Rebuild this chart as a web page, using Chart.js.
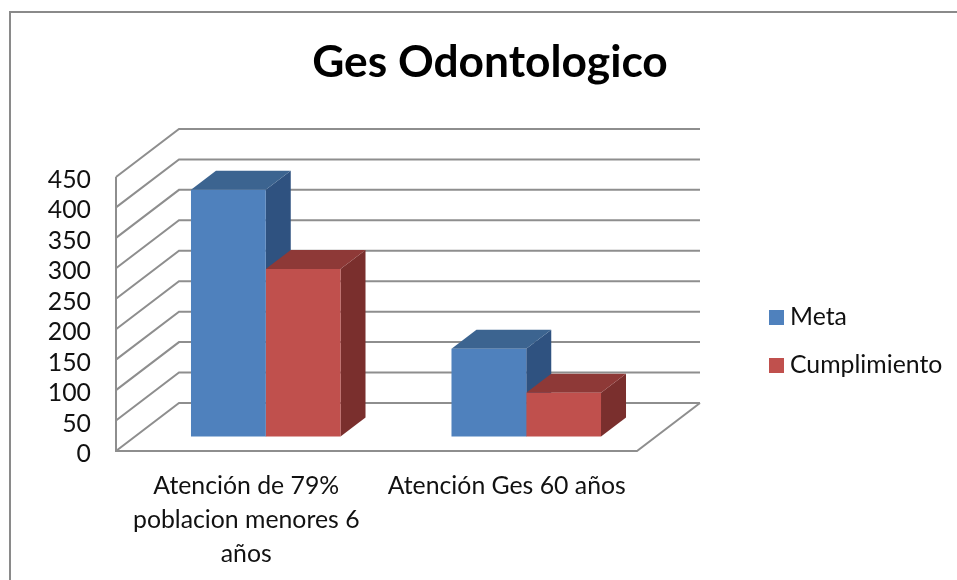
<!DOCTYPE html>
<html>
<head>
<meta charset="utf-8">
<style>html,body{margin:0;padding:0;background:#fff}canvas{display:block}</style>
<script src="https://cdn.jsdelivr.net/npm/chart.js@4"></script>
</head>
<body>
<canvas id="c" width="957" height="580"></canvas>
<script>
const categories = [["Atención de 79%", "poblacion menores 6", "años"], "Atención Ges 60 años"];
const meta = [405, 144];
const cumplimiento = [275, 72];
const yTicks = [0, 50, 100, 150, 200, 250, 300, 350, 400, 450];
const titleText = "Ges Odontologico";

const FONT = "Lato, Carlito, sans-serif";
const colors = {
  meta: {front: "#4F81BD", side: "#2F5280", top: "#3C6490"},
  cump: {front: "#C0504D", side: "#7A2F2D", top: "#8E3937"}
};
const wall = {dx: 63, dy: 48};
const barOffset = {dx: 19.5, dy: 14.5};
const barDepth = {dx: 25, dy: 19};
const gridColor = "#8E8E8E";
const yLabelShift = 3;

function swatch(color) {
  const s = document.createElement("canvas");
  s.width = 15; s.height = 15;
  const g = s.getContext("2d");
  g.fillStyle = color; g.fillRect(0, 0, 15, 15);
  return s;
}
const swatches = [swatch(colors.meta.front), swatch(colors.cump.front)];

function poly(ctx, pts, fill) {
  ctx.beginPath();
  pts.forEach((p, i) => i ? ctx.lineTo(p[0], p[1]) : ctx.moveTo(p[0], p[1]));
  ctx.closePath();
  ctx.fillStyle = fill;
  ctx.fill();
}

const scene3d = {
  id: "scene3d",
  afterLayout(chart) {
    const t = chart.titleBlock;
    t.left = 136; t.right = 844;
    t.top = 36; t.bottom = t.top + t.height;
    const l = chart.legend;
    const pad = l.options.labels.padding;
    l.left = 775.4 - pad; l.right = l.left + l.width;
    l.top = 281.8; l.bottom = l.top + l.height;
    const s = chart.scales.y;
    if (!s._shifted) {
      s._shifted = true;
      const base = s._computeLabelItems;
      s._computeLabelItems = function (area) {
        return base.call(s, area).map(it => { it.textOffset += yLabelShift; return it; });
      };
      s._labelItems = null;
    }
  },
  beforeDraw(chart) {
    const ctx = chart.ctx;
    ctx.save();
    ctx.fillStyle = "#fff";
    ctx.fillRect(0, 0, chart.width, chart.height);
    ctx.strokeStyle = "#8A8A8A";
    ctx.lineWidth = 2;
    ctx.beginPath();
    ctx.moveTo(10, 580); ctx.lineTo(10, 12); ctx.lineTo(957, 12);
    ctx.stroke();
    ctx.restore();
  },
  beforeDatasetsDraw(chart) {
    const ctx = chart.ctx, x = chart.scales.x, y = chart.scales.y;
    const L = x.left, R = x.right, B = y.getPixelForValue(0), T = y.getPixelForValue(450);
    ctx.save();
    ctx.strokeStyle = gridColor;
    ctx.lineWidth = 2;
    ctx.beginPath();
    yTicks.forEach(v => {
      const py = y.getPixelForValue(v);
      ctx.moveTo(L, py);
      ctx.lineTo(L + wall.dx, py - wall.dy);
      ctx.lineTo(R + wall.dx, py - wall.dy);
    });
    ctx.moveTo(L, T); ctx.lineTo(L, B); ctx.lineTo(R, B); ctx.lineTo(R + wall.dx, B - wall.dy);
    ctx.stroke();
    ctx.restore();

    ctx.save();
    ctx.translate(barOffset.dx, -barOffset.dy);
    chart.data.datasets.forEach((ds, i) => {
      const c = i === 0 ? colors.meta : colors.cump;
      chart.getDatasetMeta(i).data.forEach(bar => {
        const l = bar.x - bar.width / 2, r = bar.x + bar.width / 2, t = bar.y, b = bar.base;
        poly(ctx, [[r, t], [r + barDepth.dx, t - barDepth.dy], [r + barDepth.dx, b - barDepth.dy], [r, b]], c.side);
        poly(ctx, [[l, t], [l + barDepth.dx, t - barDepth.dy], [r + barDepth.dx, t - barDepth.dy], [r, t]], c.top);
      });
    });
    // the library draws the front faces inside this translation
  },
  afterDatasetsDraw(chart) {
    chart.ctx.restore();
  }
};

new Chart(document.getElementById("c"), {
  type: "bar",
  data: {
    labels: categories,
    datasets: [
      {label: "Meta", data: meta, backgroundColor: colors.meta.front, clip: false},
      {label: "Cumplimiento", data: cumplimiento, backgroundColor: colors.cump.front, clip: false}
    ]
  },
  plugins: [scene3d],
  options: {
    responsive: false,
    animation: false,
    devicePixelRatio: 1,
    categoryPercentage: 0.574,
    barPercentage: 1,
    layout: {autoPadding: false, padding: {left: 0, right: 320, top: 123.8, bottom: 0}},
    plugins: {
      tooltip: {enabled: false},
      title: {
        display: true, text: titleText, color: "#000", padding: 0,
        font: {family: FONT, size: 44.3, weight: "bold", lineHeight: 1.2}
      },
      legend: {
        display: true, position: "chartArea", align: "start",
        labels: {
          usePointStyle: true, pointStyleWidth: 2.2, boxHeight: 15, padding: 23.2, color: "#111",
          font: {family: FONT, size: 24.8, lineHeight: 1.2},
          generateLabels(chart) {
            return Chart.defaults.plugins.legend.labels.generateLabels(chart)
              .map((it, i) => Object.assign(it, {pointStyle: swatches[i]}));
          }
        }
      }
    },
    scales: {
      x: {
        grid: {display: false}, border: {display: false},
        afterFit(s) { s.height = 129; },
        ticks: {
          padding: 10, autoSkip: false, maxRotation: 0, color: "#111",
          font: {family: FONT, size: 24.8, lineHeight: 1.37}
        }
      },
      y: {
        min: 0, max: 450,
        grid: {display: false}, border: {display: false},
        afterFit(s) { s.width = 116; },
        afterBuildTicks(s) { s.ticks = yTicks.map(v => ({value: v})); },
        ticks: {
          padding: 17, autoSkip: false, color: "#111",
          font: {family: FONT, size: 24.8}
        }
      }
    }
  }
});
</script>
</body>
</html>
